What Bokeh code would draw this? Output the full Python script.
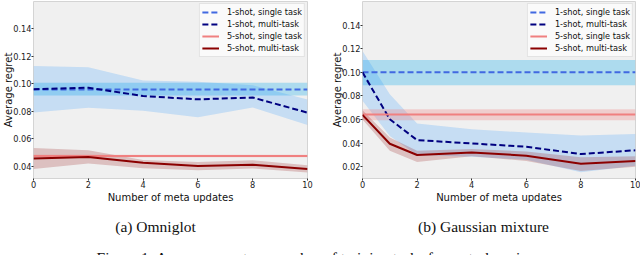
from bokeh.plotting import figure
from bokeh.layouts import column, row
from bokeh.models import Label, Range1d, FixedTicker, PrintfTickFormatter
from bokeh.embed import file_html
from bokeh.resources import INLINE

# ---------------- data ----------------
# (a) Omniglot
omni_x = [0, 2, 4, 6, 8, 10]
omni_1s_single = 0.0958
omni_1s_single_lo = 0.0915
omni_1s_single_hi = 0.1008
omni_1s_multi = [0.0961, 0.0972, 0.0911, 0.0887, 0.0900, 0.0790]
omni_1s_multi_lo = [0.0791, 0.0825, 0.0803, 0.0757, 0.0827, 0.0700]
omni_1s_multi_hi = [0.1130, 0.1120, 0.1025, 0.1015, 0.0990, 0.0885]
omni_5s_single = 0.0474
omni_5s_single_lo = 0.0465
omni_5s_single_hi = 0.0484
omni_5s_multi = [0.0456, 0.0467, 0.0424, 0.0402, 0.0411, 0.0380]
omni_5s_multi_lo = [0.0380, 0.0420, 0.0385, 0.0371, 0.0383, 0.0354]
omni_5s_multi_hi = [0.0532, 0.0516, 0.0445, 0.0431, 0.0443, 0.0407]

# (b) Gaussian mixture
gm_x = [0, 1, 2, 4, 6, 8, 10]
gm_1s_single = 0.1000
gm_1s_single_lo = 0.0890
gm_1s_single_hi = 0.1105
gm_1s_multi = [0.1000, 0.0603, 0.0426, 0.0398, 0.0370, 0.0308, 0.0340]
gm_1s_multi_lo = [0.0760, 0.0460, 0.0300, 0.0285, 0.0260, 0.0153, 0.0210]
gm_1s_multi_hi = [0.1180, 0.0814, 0.0566, 0.0519, 0.0490, 0.0465, 0.0477]
gm_5s_single = 0.0642
gm_5s_single_lo = 0.0595
gm_5s_single_hi = 0.0688
gm_5s_multi = [0.0640, 0.0395, 0.0300, 0.0322, 0.0294, 0.0226, 0.0250]
gm_5s_multi_lo = [0.0600, 0.0336, 0.0240, 0.0290, 0.0250, 0.0165, 0.0200]
gm_5s_multi_hi = [0.0680, 0.0448, 0.0336, 0.0350, 0.0330, 0.0280, 0.0290]

x_ticks = [0, 2, 4, 6, 8, 10]
omni_y_ticks = [0.04, 0.06, 0.08, 0.10, 0.12, 0.14]
gm_y_ticks = [0.02, 0.04, 0.06, 0.08, 0.10, 0.12, 0.14]

labels = ["1-shot, single task", "1-shot, multi-task",
          "5-shot, single task", "5-shot, multi-task"]
x_label = "Number of meta updates"
y_label = "Average regret"
captions = ["(a) Omniglot", "(b) Gaussian mixture"]
fig_caption = "Figure 1: Average regret vs. number of training tasks for meta-learning."

SANS = "DejaVu Sans"
SERIF = "Liberation Serif"


def make_panel(xs, s1, s1lo, s1hi, m1, m1lo, m1hi, s5, s5lo, s5hi, m5, m5lo, m5hi,
               yr, yticks, border_left, border_right):
    p = figure(width=320, height=208, output_backend="svg", toolbar_location=None,
               x_range=Range1d(0, 10), y_range=Range1d(*yr),
               min_border_left=border_left, min_border_right=border_right,
               min_border_top=1, min_border_bottom=30, sizing_mode="fixed")
    p.background_fill_color = "#f0f0f0"
    p.border_fill_color = "white"
    p.outline_line_color = "#d4d4d4"
    p.xgrid.grid_line_color = None
    p.ygrid.grid_line_color = None

    xe = [xs[0], xs[-1]]
    # bands
    p.varea(x=xe, y1=[s1lo, s1lo], y2=[s1hi, s1hi], fill_color="#5bc0eb", fill_alpha=0.45)
    p.varea(x=xs, y1=m1lo, y2=m1hi, fill_color="#1e90ff", fill_alpha=0.2)
    p.varea(x=xe, y1=[s5lo, s5lo], y2=[s5hi, s5hi], fill_color="#f08080", fill_alpha=0.3)
    p.varea(x=xs, y1=m5lo, y2=m5hi, fill_color="#8b0000", fill_alpha=0.2)
    # lines
    p.line(xe, [s1, s1], line_color="#4169e1", line_width=2, line_dash="6 3",
           legend_label=labels[0])
    p.line(xs, m1, line_color="#000080", line_width=2, line_dash="6 3",
           legend_label=labels[1])
    p.line(xe, [s5, s5], line_color="#f08080", line_width=2, legend_label=labels[2])
    p.line(xs, m5, line_color="#8b0000", line_width=2, legend_label=labels[3])

    # axes
    p.xaxis.ticker = FixedTicker(ticks=x_ticks)
    p.yaxis.ticker = FixedTicker(ticks=yticks)
    p.yaxis.formatter = PrintfTickFormatter(format="%.2f")
    for ax in (p.xaxis[0], p.yaxis[0]):
        ax.axis_line_color = None
        ax.major_tick_line_color = "#333333"
        ax.major_tick_out = 2
        ax.major_tick_in = 0
        ax.minor_tick_line_color = None
        ax.major_label_text_font = SANS
        ax.major_label_text_font_size = "8.2px"
        ax.major_label_text_color = "#222222"
        ax.axis_label_text_font = SANS
        ax.axis_label_text_font_size = "10px"
        ax.axis_label_text_font_style = "normal"
        ax.axis_label_text_color = "#111111"
    p.xaxis.major_label_standoff = 0
    p.xaxis.axis_label_standoff = 1
    p.yaxis.major_label_standoff = 0
    p.yaxis.axis_label_standoff = -4
    p.xaxis.axis_label = x_label
    p.yaxis.axis_label = y_label

    lg = p.legend[0]
    lg.location = "top_right"
    lg.margin = 2
    lg.padding = 2
    lg.spacing = 0
    lg.label_height = 12
    lg.glyph_height = 12
    lg.glyph_width = 17
    lg.label_standoff = 8
    lg.label_text_font = SANS
    lg.label_text_font_size = "8.2px"
    lg.label_text_color = "#111111"
    lg.border_line_color = "#cccccc"
    lg.background_fill_color = "#fafafa"
    lg.background_fill_alpha = 1.0
    return p


p1 = make_panel(omni_x, omni_1s_single, omni_1s_single_lo, omni_1s_single_hi,
                omni_1s_multi, omni_1s_multi_lo, omni_1s_multi_hi,
                omni_5s_single, omni_5s_single_lo, omni_5s_single_hi,
                omni_5s_multi, omni_5s_multi_lo, omni_5s_multi_hi,
                (0.031, 0.160), omni_y_ticks, 33, 13)
p2 = make_panel(gm_x, gm_1s_single, gm_1s_single_lo, gm_1s_single_hi,
                gm_1s_multi, gm_1s_multi_lo, gm_1s_multi_hi,
                gm_5s_single, gm_5s_single_lo, gm_5s_single_hi,
                gm_5s_multi, gm_5s_multi_lo, gm_5s_multi_hi,
                (0.0101, 0.160), gm_y_ticks, 42, 5)

p3 = figure(width=640, height=47, output_backend="svg", toolbar_location=None,
            x_range=Range1d(0, 640), y_range=Range1d(0, 47),
            x_axis_type=None, y_axis_type=None, min_border=0, sizing_mode="fixed")
p3.outline_line_color = None
p3.grid.grid_line_color = None
p3.background_fill_color = "white"
p3.add_layout(Label(x=155, y=29, x_units="screen", y_units="screen", text=captions[0],
                    text_align="center", text_baseline="middle", text_font=SERIF,
                    text_font_size="15.5px", text_color="#111111"))
p3.add_layout(Label(x=483, y=29, x_units="screen", y_units="screen", text=captions[1],
                    text_align="center", text_baseline="middle", text_font=SERIF,
                    text_font_size="15.5px", text_color="#111111"))
p3.add_layout(Label(x=318, y=7, x_units="screen", y_units="screen", text=fig_caption,
                    text_align="center", text_baseline="top", text_font=SERIF,
                    text_font_size="15.5px", text_color="#111111"))

top = row(p1, p2, width=640, height=208, sizing_mode="fixed")
layout = column(top, p3, width=640, height=255, sizing_mode="fixed")

open("out.html", "w").write(file_html(layout, INLINE))
